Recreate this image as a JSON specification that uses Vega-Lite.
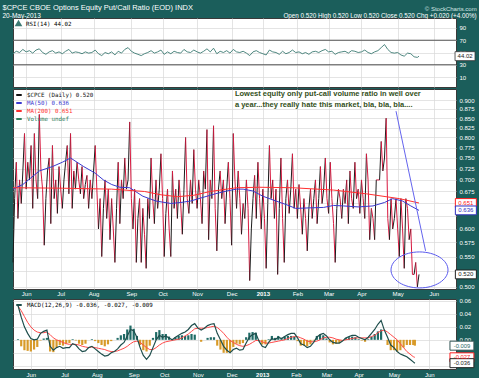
{
"$schema": "https://vega.github.io/schema/vega-lite/v6.json",
"background": "#1b5e5b",
"padding": {"left": 2, "top": 4, "right": 0, "bottom": 0},
"title": {"text": "$CPCE CBOE Options Equity Put/Call Ratio (EOD) INDX", "subtitle": "20-May-2013", "anchor": "start", "color": "white", "subtitleColor": "white", "fontSize": 7.5, "subtitleFontSize": 6.5, "fontWeight": "normal", "font": "Liberation Sans", "subtitleFont": "Liberation Sans", "offset": -14, "dx": -8, "subtitlePadding": 1},
"config": {
  "font": "Liberation Sans",
  "view": {"fill": "white", "stroke": "#3a3a3a", "strokeWidth": 1},
  "axis": {"labelColor": "white", "labelFontSize": 6, "ticks": false, "domain": false, "gridColor": "#d8d8d8", "gridWidth": 0.7, "labelPadding": 3, "labelFont": "Liberation Sans", "labelOverlap": false, "labelFlush": false, "tickCount": 40},
  "legend": {"orient": "top-left", "offset": 1, "padding": 1, "labelFontSize": 5.8, "labelFont": "DejaVu Sans Mono", "symbolType": "stroke", "symbolSize": 30, "symbolStrokeWidth": 2, "rowPadding": 0, "labelLimit": 300}
},
"resolve": {"scale": {"color": "independent", "stroke": "independent", "fill": "independent"}, "legend": {"color": "independent"}},
"datasets": {
"cp": [
{"i":0,"v":0.54},{"i":1,"v":0.66},{"i":2,"v":0.74},{"i":3,"v":0.62},{"i":4,"v":0.70},{"i":5,"v":0.65},{"i":6,"v":0.72},{"i":7,"v":0.81},{"i":8,"v":0.68},{"i":9,"v":0.74},
{"i":10,"v":0.70},{"i":11,"v":0.78},{"i":12,"v":0.64},{"i":13,"v":0.81},{"i":14,"v":0.70},{"i":15,"v":0.66},{"i":16,"v":0.86},{"i":17,"v":0.72},{"i":18,"v":0.68},{"i":19,"v":0.57},
{"i":20,"v":0.66},{"i":21,"v":0.72},{"i":22,"v":0.75},{"i":23,"v":0.61},{"i":24,"v":0.78},{"i":25,"v":0.66},{"i":26,"v":0.70},{"i":27,"v":0.63},{"i":28,"v":0.73},{"i":29,"v":0.68},
{"i":30,"v":0.64},{"i":31,"v":0.70},{"i":32,"v":0.74},{"i":33,"v":0.78},{"i":34,"v":0.67},{"i":35,"v":0.81},{"i":36,"v":0.64},{"i":37,"v":0.72},{"i":38,"v":0.68},{"i":39,"v":0.74},
{"i":40,"v":0.70},{"i":41,"v":0.67},{"i":42,"v":0.73},{"i":43,"v":0.66},{"i":44,"v":0.69},{"i":45,"v":0.71},{"i":46,"v":0.64},{"i":47,"v":0.70},{"i":48,"v":0.66},{"i":49,"v":0.72},
{"i":50,"v":0.78},{"i":51,"v":0.68},{"i":52,"v":0.60},{"i":53,"v":0.66},{"i":54,"v":0.55},{"i":55,"v":0.64},{"i":56,"v":0.70},{"i":57,"v":0.62},{"i":58,"v":0.68},{"i":59,"v":0.58},
{"i":60,"v":0.66},{"i":61,"v":0.60},{"i":62,"v":0.54},{"i":63,"v":0.64},{"i":64,"v":0.74},{"i":65,"v":0.61},{"i":66,"v":0.70},{"i":67,"v":0.66},{"i":68,"v":0.75},{"i":69,"v":0.68},
{"i":70,"v":0.70},{"i":71,"v":0.84},{"i":72,"v":0.66},{"i":73,"v":0.60},{"i":74,"v":0.68},{"i":75,"v":0.54},{"i":76,"v":0.62},{"i":77,"v":0.66},{"i":78,"v":0.54},{"i":79,"v":0.64},
{"i":80,"v":0.59},{"i":81,"v":0.53},{"i":82,"v":0.66},{"i":83,"v":0.62},{"i":84,"v":0.75},{"i":85,"v":0.66},{"i":86,"v":0.61},{"i":87,"v":0.70},{"i":88,"v":0.64},{"i":89,"v":0.68},
{"i":90,"v":0.76},{"i":91,"v":0.66},{"i":92,"v":0.55},{"i":93,"v":0.63},{"i":94,"v":0.68},{"i":95,"v":0.60},{"i":96,"v":0.55},{"i":97,"v":0.72},{"i":98,"v":0.64},{"i":99,"v":0.68},
{"i":100,"v":0.62},{"i":101,"v":0.70},{"i":102,"v":0.65},{"i":103,"v":0.59},{"i":104,"v":0.68},{"i":105,"v":0.80},{"i":106,"v":0.66},{"i":107,"v":0.63},{"i":108,"v":0.70},{"i":109,"v":0.65},
{"i":110,"v":0.77},{"i":111,"v":0.68},{"i":112,"v":0.64},{"i":113,"v":0.70},{"i":114,"v":0.66},{"i":115,"v":0.61},{"i":116,"v":0.72},{"i":117,"v":0.68},{"i":118,"v":0.82},{"i":119,"v":0.58},
{"i":120,"v":0.70},{"i":121,"v":0.66},{"i":122,"v":0.83},{"i":123,"v":0.64},{"i":124,"v":0.56},{"i":125,"v":0.68},{"i":126,"v":0.72},{"i":127,"v":0.66},{"i":128,"v":0.70},{"i":129,"v":0.61},
{"i":130,"v":0.68},{"i":131,"v":0.74},{"i":132,"v":0.66},{"i":133,"v":0.57},{"i":134,"v":0.81},{"i":135,"v":0.70},{"i":136,"v":0.64},{"i":137,"v":0.72},{"i":138,"v":0.66},{"i":139,"v":0.59},
{"i":140,"v":0.65},{"i":141,"v":0.62},{"i":142,"v":0.70},{"i":143,"v":0.64},{"i":144,"v":0.51},{"i":145,"v":0.60},{"i":146,"v":0.66},{"i":147,"v":0.71},{"i":148,"v":0.62},{"i":149,"v":0.74},
{"i":150,"v":0.66},{"i":151,"v":0.60},{"i":152,"v":0.68},{"i":153,"v":0.62},{"i":154,"v":0.53},{"i":155,"v":0.65},{"i":156,"v":0.78},{"i":157,"v":0.66},{"i":158,"v":0.70},{"i":159,"v":0.62},
{"i":160,"v":0.68},{"i":161,"v":0.52},{"i":162,"v":0.64},{"i":163,"v":0.75},{"i":164,"v":0.62},{"i":165,"v":0.54},{"i":166,"v":0.66},{"i":167,"v":0.70},{"i":168,"v":0.63},{"i":169,"v":0.68},
{"i":170,"v":0.76},{"i":171,"v":0.64},{"i":172,"v":0.68},{"i":173,"v":0.62},{"i":174,"v":0.69},{"i":175,"v":0.64},{"i":176,"v":0.59},{"i":177,"v":0.66},{"i":178,"v":0.62},{"i":179,"v":0.56},
{"i":180,"v":0.64},{"i":181,"v":0.68},{"i":182,"v":0.62},{"i":183,"v":0.66},{"i":184,"v":0.70},{"i":185,"v":0.61},{"i":186,"v":0.66},{"i":187,"v":0.73},{"i":188,"v":0.65},{"i":189,"v":0.68},
{"i":190,"v":0.75},{"i":191,"v":0.66},{"i":192,"v":0.63},{"i":193,"v":0.74},{"i":194,"v":0.66},{"i":195,"v":0.61},{"i":196,"v":0.54},{"i":197,"v":0.64},{"i":198,"v":0.68},{"i":199,"v":0.66},
{"i":200,"v":0.62},{"i":201,"v":0.68},{"i":202,"v":0.65},{"i":203,"v":0.70},{"i":204,"v":0.61},{"i":205,"v":0.72},{"i":206,"v":0.66},{"i":207,"v":0.64},{"i":208,"v":0.74},{"i":209,"v":0.66},
{"i":210,"v":0.68},{"i":211,"v":0.63},{"i":212,"v":0.70},{"i":213,"v":0.66},{"i":214,"v":0.62},{"i":215,"v":0.76},{"i":216,"v":0.70},{"i":217,"v":0.58},{"i":218,"v":0.64},{"i":219,"v":0.62},
{"i":220,"v":0.58},{"i":221,"v":0.70},{"i":222,"v":0.70},{"i":223,"v":0.70},{"i":224,"v":0.79},{"i":225,"v":0.72},{"i":226,"v":0.75},{"i":227,"v":0.85},{"i":228,"v":0.62},{"i":229,"v":0.58},
{"i":230,"v":0.66},{"i":231,"v":0.60},{"i":232,"v":0.62},{"i":233,"v":0.66},{"i":234,"v":0.60},{"i":235,"v":0.55},{"i":236,"v":0.66},{"i":237,"v":0.60},{"i":238,"v":0.53},{"i":239,"v":0.66},
{"i":240,"v":0.64},{"i":241,"v":0.58},{"i":242,"v":0.60},{"i":243,"v":0.52},{"i":244,"v":0.52},{"i":245,"v":0.54},{"i":246,"v":0.50},{"i":247,"v":0.52}
],
"ma": [
{"i":0,"k":"a","m":0.68},{"i":6,"k":"a","m":0.69},{"i":16,"k":"a","m":0.72},{"i":24,"k":"a","m":0.73},{"i":30,"k":"a","m":0.74},{"i":35,"k":"a","m":0.75},{"i":43,"k":"a","m":0.73},{"i":50,"k":"a","m":0.715},{"i":55,"k":"a","m":0.70},{"i":60,"k":"a","m":0.69},{"i":65,"k":"a","m":0.684},{"i":71,"k":"a","m":0.683},{"i":79,"k":"a","m":0.665},{"i":87,"k":"a","m":0.655},{"i":96,"k":"a","m":0.65},{"i":102,"k":"a","m":0.652},{"i":108,"k":"a","m":0.655},{"i":115,"k":"a","m":0.662},{"i":123,"k":"a","m":0.67},{"i":130,"k":"a","m":0.676},{"i":136,"k":"a","m":0.68},{"i":140,"k":"a","m":0.68},{"i":146,"k":"a","m":0.676},{"i":152,"k":"a","m":0.665},{"i":160,"k":"a","m":0.655},{"i":166,"k":"a","m":0.648},{"i":172,"k":"a","m":0.64},{"i":180,"k":"a","m":0.641},{"i":189,"k":"a","m":0.642},{"i":195,"k":"a","m":0.646},{"i":201,"k":"a","m":0.645},{"i":210,"k":"a","m":0.643},{"i":219,"k":"a","m":0.645},{"i":226,"k":"a","m":0.652},{"i":231,"k":"a","m":0.66},{"i":237,"k":"a","m":0.655},{"i":242,"k":"a","m":0.645},{"i":247,"k":"a","m":0.636},
{"i":0,"k":"b","m":0.683},{"i":30,"k":"b","m":0.682},{"i":60,"k":"b","m":0.68},{"i":80,"k":"b","m":0.675},{"i":90,"k":"b","m":0.668},{"i":100,"k":"b","m":0.664},{"i":110,"k":"b","m":0.667},{"i":120,"k":"b","m":0.675},{"i":136,"k":"b","m":0.683},{"i":150,"k":"b","m":0.684},{"i":170,"k":"b","m":0.683},{"i":195,"k":"b","m":0.678},{"i":215,"k":"b","m":0.67},{"i":235,"k":"b","m":0.66},{"i":247,"k":"b","m":0.651}
],
"ind": [
{"i":0,"r":48,"m":0.053,"s":0.052,"h":0.001},
{"i":2,"r":52,"m":0.035,"s":0.045,"h":-0.010},
{"i":4,"r":50,"m":0.020,"s":0.036,"h":-0.016},
{"i":6,"r":55,"m":0.010,"s":0.027,"h":-0.017},
{"i":8,"r":51,"m":0.002,"s":0.020,"h":-0.018},
{"i":10,"r":53,"m":0.000,"s":0.015,"h":-0.015},
{"i":12,"r":49,"m":0.001,"s":0.012,"h":-0.011},
{"i":14,"r":54,"m":0.010,"s":0.011,"h":-0.001},
{"i":16,"r":56,"m":0.013,"s":0.011,"h":0.002},
{"i":18,"r":50,"m":0.015,"s":0.012,"h":0.003},
{"i":20,"r":47,"m":-0.010,"s":0.008,"h":-0.018},
{"i":22,"r":51,"m":-0.016,"s":0.003,"h":-0.019},
{"i":24,"r":53,"m":-0.012,"s":0.000,"h":-0.012},
{"i":26,"r":49,"m":-0.010,"s":-0.002,"h":-0.008},
{"i":28,"r":51,"m":-0.013,"s":-0.004,"h":-0.009},
{"i":30,"r":48,"m":-0.012,"s":-0.006,"h":-0.006},
{"i":32,"r":52,"m":-0.012,"s":-0.007,"h":-0.005},
{"i":34,"r":55,"m":-0.006,"s":-0.007,"h":0.001},
{"i":36,"r":49,"m":-0.008,"s":-0.007,"h":-0.001},
{"i":38,"r":51,"m":-0.014,"s":-0.008,"h":-0.006},
{"i":40,"r":50,"m":-0.018,"s":-0.010,"h":-0.008},
{"i":42,"r":48,"m":-0.017,"s":-0.011,"h":-0.006},
{"i":44,"r":51,"m":-0.012,"s":-0.012,"h":0.000},
{"i":46,"r":49,"m":-0.010,"s":-0.011,"h":0.001},
{"i":48,"r":50,"m":-0.014,"s":-0.012,"h":-0.002},
{"i":50,"r":54,"m":-0.018,"s":-0.013,"h":-0.005},
{"i":52,"r":48,"m":-0.022,"s":-0.014,"h":-0.008},
{"i":54,"r":45,"m":-0.025,"s":-0.015,"h":-0.010},
{"i":56,"r":50,"m":-0.024,"s":-0.017,"h":-0.007},
{"i":58,"r":48,"m":-0.020,"s":-0.018,"h":-0.002},
{"i":60,"r":51,"m":-0.018,"s":-0.018,"h":0.000},
{"i":62,"r":46,"m":-0.014,"s":-0.017,"h":0.003},
{"i":64,"r":52,"m":-0.008,"s":-0.015,"h":0.007},
{"i":66,"r":49,"m":-0.004,"s":-0.013,"h":0.009},
{"i":68,"r":55,"m":0.006,"s":-0.010,"h":0.016},
{"i":70,"r":58,"m":0.016,"s":-0.006,"h":0.022},
{"i":72,"r":52,"m":0.014,"s":-0.003,"h":0.017},
{"i":74,"r":49,"m":0.004,"s":-0.002,"h":0.006},
{"i":76,"r":47,"m":-0.012,"s":-0.004,"h":-0.008},
{"i":78,"r":45,"m":-0.024,"s":-0.008,"h":-0.016},
{"i":80,"r":48,"m":-0.030,"s":-0.012,"h":-0.018},
{"i":82,"r":50,"m":-0.024,"s":-0.015,"h":-0.009},
{"i":84,"r":53,"m":-0.012,"s":-0.015,"h":0.003},
{"i":86,"r":49,"m":0.000,"s":-0.012,"h":0.012},
{"i":88,"r":51,"m":0.007,"s":-0.008,"h":0.015},
{"i":90,"r":54,"m":0.004,"s":-0.005,"h":0.009},
{"i":92,"r":47,"m":0.006,"s":-0.003,"h":0.009},
{"i":94,"r":51,"m":0.003,"s":-0.002,"h":0.005},
{"i":96,"r":48,"m":0.000,"s":-0.001,"h":0.001},
{"i":98,"r":52,"m":0.004,"s":0.000,"h":0.004},
{"i":100,"r":50,"m":0.007,"s":0.001,"h":0.006},
{"i":102,"r":49,"m":0.010,"s":0.003,"h":0.007},
{"i":104,"r":55,"m":0.012,"s":0.006,"h":0.006},
{"i":106,"r":51,"m":0.016,"s":0.009,"h":0.007},
{"i":108,"r":50,"m":0.022,"s":0.013,"h":0.009},
{"i":110,"r":54,"m":0.025,"s":0.017,"h":0.008},
{"i":112,"r":51,"m":0.018,"s":0.018,"h":0.000},
{"i":114,"r":49,"m":0.015,"s":0.018,"h":-0.003},
{"i":116,"r":52,"m":0.018,"s":0.018,"h":0.000},
{"i":118,"r":56,"m":0.022,"s":0.019,"h":0.003},
{"i":120,"r":51,"m":0.024,"s":0.020,"h":0.004},
{"i":122,"r":57,"m":0.025,"s":0.021,"h":0.004},
{"i":124,"r":48,"m":0.010,"s":0.019,"h":-0.009},
{"i":126,"r":52,"m":0.000,"s":0.015,"h":-0.015},
{"i":128,"r":50,"m":-0.010,"s":0.010,"h":-0.020},
{"i":130,"r":53,"m":-0.016,"s":0.004,"h":-0.020},
{"i":132,"r":49,"m":-0.020,"s":-0.001,"h":-0.019},
{"i":134,"r":55,"m":-0.015,"s":-0.004,"h":-0.011},
{"i":136,"r":51,"m":-0.013,"s":-0.007,"h":-0.006},
{"i":138,"r":50,"m":-0.016,"s":-0.009,"h":-0.007},
{"i":140,"r":52,"m":-0.015,"s":-0.010,"h":-0.005},
{"i":142,"r":49,"m":-0.005,"s":-0.009,"h":0.004},
{"i":144,"r":45,"m":0.004,"s":-0.007,"h":0.011},
{"i":146,"r":51,"m":0.008,"s":-0.004,"h":0.012},
{"i":148,"r":53,"m":0.010,"s":-0.001,"h":0.011},
{"i":150,"r":50,"m":-0.002,"s":-0.001,"h":-0.001},
{"i":152,"r":48,"m":-0.010,"s":-0.003,"h":-0.007},
{"i":154,"r":46,"m":-0.012,"s":-0.005,"h":-0.007},
{"i":156,"r":54,"m":-0.004,"s":-0.005,"h":0.001},
{"i":158,"r":51,"m":0.002,"s":-0.004,"h":0.006},
{"i":160,"r":50,"m":0.000,"s":-0.003,"h":0.003},
{"i":162,"r":47,"m":0.004,"s":-0.002,"h":0.006},
{"i":164,"r":52,"m":0.002,"s":-0.001,"h":0.003},
{"i":166,"r":48,"m":0.005,"s":0.000,"h":0.005},
{"i":168,"r":50,"m":0.008,"s":0.002,"h":0.006},
{"i":170,"r":54,"m":0.010,"s":0.004,"h":0.006},
{"i":172,"r":50,"m":0.010,"s":0.005,"h":0.005},
{"i":174,"r":51,"m":0.003,"s":0.005,"h":-0.002},
{"i":176,"r":48,"m":-0.006,"s":0.003,"h":-0.009},
{"i":178,"r":50,"m":-0.008,"s":0.001,"h":-0.009},
{"i":180,"r":47,"m":-0.012,"s":-0.002,"h":-0.010},
{"i":182,"r":51,"m":-0.010,"s":-0.003,"h":-0.007},
{"i":184,"r":52,"m":-0.004,"s":-0.003,"h":-0.001},
{"i":186,"r":50,"m":0.004,"s":-0.002,"h":0.006},
{"i":188,"r":53,"m":0.008,"s":0.000,"h":0.008},
{"i":190,"r":55,"m":0.010,"s":0.003,"h":0.007},
{"i":192,"r":51,"m":0.006,"s":0.004,"h":0.002},
{"i":194,"r":52,"m":0.000,"s":0.004,"h":-0.004},
{"i":196,"r":47,"m":-0.004,"s":0.003,"h":-0.007},
{"i":198,"r":50,"m":-0.005,"s":0.001,"h":-0.006},
{"i":200,"r":51,"m":-0.005,"s":0.000,"h":-0.005},
{"i":202,"r":52,"m":-0.002,"s":-0.001,"h":-0.001},
{"i":204,"r":49,"m":0.003,"s":0.000,"h":0.003},
{"i":206,"r":53,"m":0.005,"s":0.001,"h":0.004},
{"i":208,"r":52,"m":0.007,"s":0.002,"h":0.005},
{"i":210,"r":50,"m":0.007,"s":0.003,"h":0.004},
{"i":212,"r":51,"m":0.004,"s":0.003,"h":0.001},
{"i":214,"r":54,"m":0.002,"s":0.003,"h":-0.001},
{"i":216,"r":50,"m":0.000,"s":0.003,"h":-0.003},
{"i":218,"r":48,"m":0.004,"s":0.003,"h":0.001},
{"i":220,"r":51,"m":0.010,"s":0.005,"h":0.005},
{"i":222,"r":53,"m":0.016,"s":0.007,"h":0.009},
{"i":224,"r":58,"m":0.024,"s":0.011,"h":0.013},
{"i":226,"r":63,"m":0.030,"s":0.014,"h":0.016},
{"i":228,"r":55,"m":0.015,"s":0.015,"h":0.000},
{"i":230,"r":50,"m":0.004,"s":0.012,"h":-0.008},
{"i":232,"r":49,"m":-0.008,"s":0.008,"h":-0.016},
{"i":234,"r":50,"m":-0.012,"s":0.004,"h":-0.016},
{"i":236,"r":46,"m":-0.018,"s":0.000,"h":-0.018},
{"i":238,"r":44,"m":-0.022,"s":-0.006,"h":-0.016},
{"i":240,"r":49,"m":-0.024,"s":-0.012,"h":-0.012},
{"i":242,"r":48,"m":-0.026,"s":-0.018,"h":-0.008},
{"i":244,"r":43,"m":-0.030,"s":-0.022,"h":-0.008},
{"i":246,"r":42,"m":-0.034,"s":-0.026,"h":-0.008},
{"i":247,"r":44.02,"m":-0.036,"s":-0.027,"h":-0.009}
]
},
"spacing": 0,
"vconcat": [
  {
    "width": 443, "height": 69,
    "title": {"text": "© StockCharts.com", "subtitle": "Open 0.520  High 0.520  Low 0.520  Close 0.520  Chg +0.020 (+4.00%)", "anchor": "end", "color": "#d6e6e3", "subtitleColor": "white", "fontSize": 6, "subtitleFontSize": 6.3, "fontWeight": "normal", "font": "Liberation Sans", "subtitleFont": "Liberation Sans", "offset": -1, "subtitlePadding": 1},
    "layer": [
      {"data": {"name": "ind"}, "mark": {"type": "line", "strokeWidth": 0.9},
       "encoding": {
         "x": {"field": "i", "type": "quantitative", "scale": {"domain": [0, 269.5], "nice": false, "zero": false}, "axis": {"title": null, "labels": false, "grid": true, "tickCount": 40, "values": [8,29,49,72,91,112,133,152,173,192,212,234,256]}},
         "y": {"field": "r", "type": "quantitative", "scale": {"domain": [-6.3, 106.3], "nice": false, "zero": false}, "axis": {"title": null, "orient": "right", "values": [10,30,50,70,90], "grid": true, "labelOverlap": false, "tickCount": 40}},
         "color": {"datum": "RSI(14) 44.02", "scale": {"range": ["#3c7a73"]}, "legend": {"title": null, "symbolType": "triangle-up", "symbolSize": 18, "symbolFillColor": "#3c7a73"}}
       }},
      {"data": {"values": [{"lv": 70}, {"lv": 30}]}, "mark": {"type": "rule", "color": "#555555", "strokeWidth": 1},
       "encoding": {"y": {"field": "lv", "type": "quantitative", "axis": {"title": null}}}},
      {"data": {"values": [{"r": 44.02, "t": "44.02"}]},
       "encoding": {"x": {"datum": 275, "type": "quantitative"}, "y": {"field": "r", "type": "quantitative", "axis": {"title": null}}},
       "layer": [
         {"mark": {"type": "point", "shape": "M-1,-0.45L1,-0.45L1,0.45L-1,0.45Z", "size": 400, "filled": true, "fill": "white", "stroke": "#333333", "strokeWidth": 0.8, "opacity": 1}},
         {"mark": {"type": "text", "fontSize": 6, "color": "#222222"}, "encoding": {"text": {"field": "t"}}}
       ]}
    ]
  },
  {
    "width": 443, "height": 200,
    "layer": [
      {"data": {"name": "cp"},
       "transform": [{"window": [{"op": "lead", "field": "v", "as": "nv"}, {"op": "lead", "field": "i", "as": "ni"}], "sort": [{"field": "i"}]}, {"filter": "datum.nv != null"}],
       "mark": {"type": "rule", "strokeWidth": 1},
       "encoding": {
         "x": {"field": "i", "type": "quantitative", "scale": {"domain": [0, 269.5], "nice": false, "zero": false}, "axis": {"title": null, "grid": true, "labelOverlap": false, "tickCount": 40, "labelPadding": 1, "values": [8,29,49,72,91,112,133,152,173,192,212,234,256], "labelExpr": "datum.value==8?'Jun':datum.value==29?'Jul':datum.value==49?'Aug':datum.value==72?'Sep':datum.value==91?'Oct':datum.value==112?'Nov':datum.value==133?'Dec':datum.value==152?'2013':datum.value==173?'Feb':datum.value==192?'Mar':datum.value==212?'Apr':datum.value==234?'May':'Jun'", "labelFontWeight": {"condition": {"test": "datum.value==152", "value": "bold"}, "value": "normal"}}},
         "x2": {"field": "ni"},
         "y": {"field": "v", "type": "quantitative", "scale": {"type": "log", "domain": [0.4967, 0.9317], "nice": false}, "axis": {"title": null, "orient": "right", "grid": true, "labelOverlap": false, "tickCount": 40, "values": [0.5,0.525,0.55,0.575,0.6,0.625,0.65,0.675,0.7,0.725,0.75,0.775,0.8,0.825,0.85,0.875,0.9], "labelExpr": "datum.value==0.65||datum.value==0.625||datum.value==0.525?'':format(datum.value,'.3f')"}},
         "y2": {"field": "nv"},
         "color": {"condition": {"test": "datum.nv > datum.v", "value": "#1c1c1c"}, "value": "#d8183f"}
       }},
      {"data": {"name": "ma"}, "mark": {"type": "line", "strokeWidth": 1},
       "encoding": {
         "x": {"field": "i", "type": "quantitative"},
         "y": {"field": "m", "type": "quantitative", "axis": {"title": null}},
         "color": {"field": "k", "type": "nominal", "scale": {"domain": ["c","a","b","d"], "range": ["#111111","#3a3acf","#ff3030","#2e7d5b"]},
                   "legend": {"title": null, "labelExpr": "datum.value=='c'?'$CPCE (Daily) 0.520':datum.value=='a'?'MA(50) 0.636':datum.value=='b'?'MA(200) 0.651':'Volume undef'", "labelColor": {"expr": "datum.value=='a'?'#3a3acf':datum.value=='b'?'#ff3030':datum.value=='d'?'#2e7d5b':'#111111'"}}}
       }},
      {"data": {"values": [{"v": 0.651, "t": "0.651", "k": "ma200"}, {"v": 0.636, "t": "0.636", "k": "ma50"}, {"v": 0.52, "t": "0.520", "k": "px"}]},
       "encoding": {"x": {"datum": 275.5, "type": "quantitative"}, "y": {"field": "v", "type": "quantitative", "axis": {"title": null}}},
       "layer": [
         {"mark": {"type": "point", "shape": "M-1,-0.42L1,-0.42L1,0.42L-1,0.42Z", "size": 441, "filled": true, "fill": "white", "strokeWidth": 1, "opacity": 1},
          "encoding": {"stroke": {"field": "k", "type": "nominal", "scale": {"domain": ["ma200","ma50","px"], "range": ["#ff2020","#3030c0","#222222"]}, "legend": null}}},
         {"mark": {"type": "text", "fontSize": 6},
          "encoding": {"text": {"field": "t"}, "fill": {"field": "k", "type": "nominal", "scale": {"domain": ["ma200","ma50","px"], "range": ["#ff2020","#3030c0","#222222"]}, "legend": null}}}
       ]},
      {"data": {"values": [{}]},
       "mark": {"type": "text", "align": "left", "baseline": "top", "fontSize": 7.5, "fontWeight": "bold", "color": "#33501a", "lineHeight": 11.5},
       "encoding": {"x": {"datum": 135, "type": "quantitative"}, "y": {"datum": 0.929, "type": "quantitative"}, "text": {"value": ["Lowest equity only put-call volume ratio in well over", "a year...they really hate this market, bla, bla, bla...."]}}},
      {"data": {"values": [{}]},
       "mark": {"type": "rule", "color": "#6464ee", "strokeWidth": 1},
       "encoding": {"x": {"datum": 233, "type": "quantitative"}, "x2": {"datum": 251}, "y": {"datum": 0.869, "type": "quantitative"}, "y2": {"datum": 0.56}}},
      {"data": {"values": [{}]},
       "mark": {"type": "point", "shape": "M1.583,0C1.583,0.552,0.874,1,0,1C-0.874,1,-1.583,0.552,-1.583,0C-1.583,-0.552,-0.874,-1,0,-1C0.874,-1,1.583,-0.552,1.583,0Z", "size": 1296, "filled": false, "stroke": "#5a5aee", "strokeWidth": 1, "opacity": 1},
       "encoding": {"x": {"datum": 247.3, "type": "quantitative"}, "y": {"datum": 0.5274, "type": "quantitative"}}}
    ]
  },
  {
    "width": 443, "height": 70,
    "data": {"name": "ind"},
    "layer": [
      {"mark": {"type": "bar", "size": 2.2},
       "encoding": {
         "x": {"field": "i", "type": "quantitative", "scale": {"domain": [0, 269.5], "nice": false, "zero": false}, "axis": {"title": null, "grid": true, "labelOverlap": false, "tickCount": 40, "labelPadding": 2, "values": [8,29,49,72,91,112,133,152,173,192,212,234,256], "labelExpr": "datum.value==8?'Jun':datum.value==29?'Jul':datum.value==49?'Aug':datum.value==72?'Sep':datum.value==91?'Oct':datum.value==112?'Nov':datum.value==133?'Dec':datum.value==152?'2013':datum.value==173?'Feb':datum.value==192?'Mar':datum.value==212?'Apr':datum.value==234?'May':'Jun'", "labelFontWeight": {"condition": {"test": "datum.value==152", "value": "bold"}, "value": "normal"}}},
         "y": {"field": "h", "type": "quantitative", "scale": {"domain": [-0.045, 0.063], "nice": false}, "axis": {"title": null, "orient": "right", "grid": true, "labelOverlap": false, "tickCount": 40, "values": [0.06,0.04,0.02,0,-0.02,-0.04], "labelExpr": "datum.value < -0.01 ? '' : format(datum.value, '.2f')"}},
         "color": {"condition": {"test": "datum.h >= 0", "value": "#1f6b66"}, "value": "#d89a28"}
       }},
      {"mark": {"type": "line", "color": "#ff4a4a", "strokeWidth": 1},
       "encoding": {"x": {"field": "i", "type": "quantitative"}, "y": {"field": "s", "type": "quantitative", "axis": {"title": null}}}},
      {"mark": {"type": "line", "strokeWidth": 1.2},
       "encoding": {"x": {"field": "i", "type": "quantitative"}, "y": {"field": "m", "type": "quantitative", "axis": {"title": null}},
         "color": {"datum": "MACD(12,26,9) -0.036, -0.027, -0.009", "scale": {"range": ["#1e4e4c"]}, "legend": {"title": null}}}},
      {"data": {"values": [{"h": -0.009, "t": "-0.009", "k": "hist"}, {"h": -0.027, "t": "-0.027", "k": "sig"}, {"h": -0.036, "t": "-0.036", "k": "macd"}]},
       "encoding": {"x": {"datum": 276.3, "type": "quantitative"}, "y": {"field": "h", "type": "quantitative", "axis": {"title": null}}},
       "layer": [
         {"mark": {"type": "point", "shape": "M-1.33,-0.5L1.33,-0.5L1.33,0.5L-1.33,0.5Z", "size": 324, "filled": true, "fill": "white", "strokeWidth": 1, "opacity": 1},
          "encoding": {"stroke": {"field": "k", "type": "nominal", "scale": {"domain": ["hist","sig","macd"], "range": ["#335555","#ff2020","#222222"]}, "legend": null}}},
         {"mark": {"type": "text", "fontSize": 5.8},
          "encoding": {"text": {"field": "t"}, "fill": {"field": "k", "type": "nominal", "scale": {"domain": ["hist","sig","macd"], "range": ["#2a6a66","#ff2020","#222222"]}, "legend": null}}}
       ]}
    ]
  }
]
}
